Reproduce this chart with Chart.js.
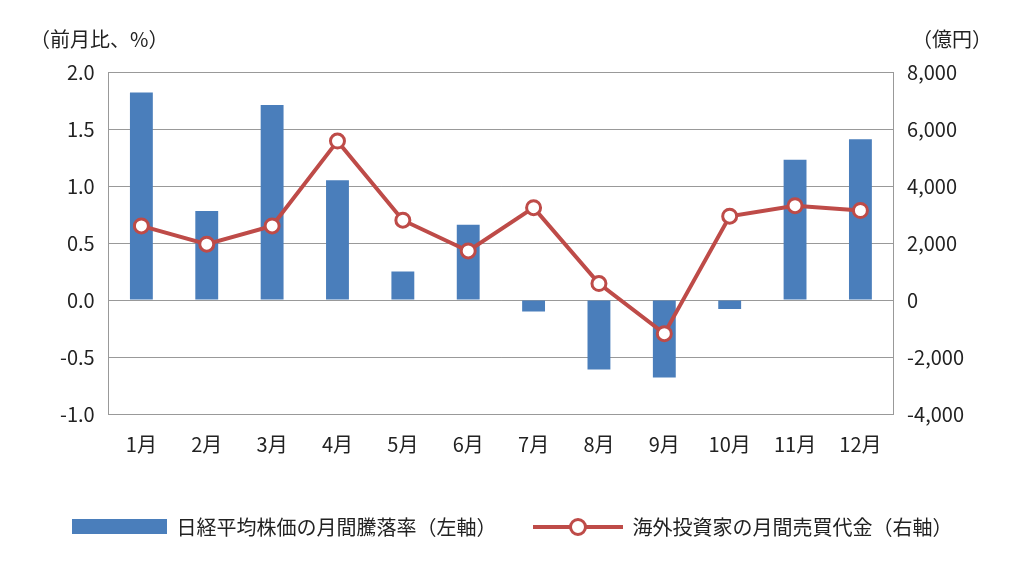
<!DOCTYPE html>
<html><head><meta charset="utf-8">
<script src="https://cdn.jsdelivr.net/npm/chart.js@4"></script>
<style>
body{margin:0;background:#fff;font-family:"Noto Sans CJK JP",sans-serif;}
#wrap{position:relative;width:1024px;height:576px;}
.t{position:absolute;font-size:20px;color:#222;}
#legend{position:absolute;top:512px;left:0;width:1024px;display:flex;justify-content:center;gap:36px;font-size:20px;color:#222;align-items:center}
.li{display:flex;align-items:center;gap:10px}
.bar{width:95px;height:15px;background:#4a7ebb}
.ln{position:relative;width:90px;height:4px;background:#be4b48}
.ln:after{content:"";position:absolute;left:36px;top:-7px;width:12px;height:12px;border:3px solid #be4b48;border-radius:50%;background:#fff}
</style></head><body>
<div id="wrap">
<canvas id="c" width="1024" height="576"></canvas>
<div class="t" style="left:30px;top:24px">（前月比、%）</div>
<div class="t" style="left:912px;top:24px">（億円）</div>
<div id="legend"><div class="li"><div class="bar"></div>日経平均株価の月間騰落率（左軸）</div><div class="li"><div class="ln"></div>海外投資家の月間売買代金（右軸）</div></div>
</div>
<script>
const categories=["1月","2月","3月","4月","5月","6月","7月","8月","9月","10月","11月","12月"];
const nikkeiChange=[1.82,0.78,1.71,1.05,0.25,0.66,-0.10,-0.61,-0.68,-0.08,1.23,1.41];
const foreignTrade=[2600,1960,2600,5575,2800,1720,3240,575,-1180,2940,3310,3140];
const leftTicks=[2.0,1.5,1.0,0.5,0.0,-0.5,-1.0];
const font={family:"Noto Sans CJK JP",size:20};
new Chart(document.getElementById('c'),{
data:{labels:categories,datasets:[
{type:'line',data:foreignTrade,yAxisID:'y2',borderColor:'#be4b48',borderWidth:4,pointRadius:7,pointBorderWidth:3,pointBackgroundColor:'#fff',pointBorderColor:'#be4b48',order:0},
{type:'bar',data:nikkeiChange,yAxisID:'y',backgroundColor:'#4a7ebb',categoryPercentage:1,barPercentage:0.35,order:1}
]},
options:{responsive:false,animation:false,
layout:{padding:{left:46,right:46,top:72,bottom:110}},
plugins:{legend:{display:false},tooltip:{enabled:false}},
scales:{
x:{grid:{display:false},border:{color:'#999'},ticks:{color:'#222',font,padding:10}},
y:{min:-1,max:2,afterBuildTicks:a=>{a.ticks=leftTicks.map(v=>({value:v}))},ticks:{color:'#222',font,padding:14,callback:v=>v.toFixed(1)},grid:{color:'#999',drawTicks:false},border:{color:'#999'}},
y2:{position:'right',min:-4000,max:8000,ticks:{stepSize:2000,color:'#222',font,padding:14,callback:v=>v.toLocaleString('en-US')},grid:{display:false,drawTicks:false},border:{color:'#999'}}
}}});
</script></body></html>
